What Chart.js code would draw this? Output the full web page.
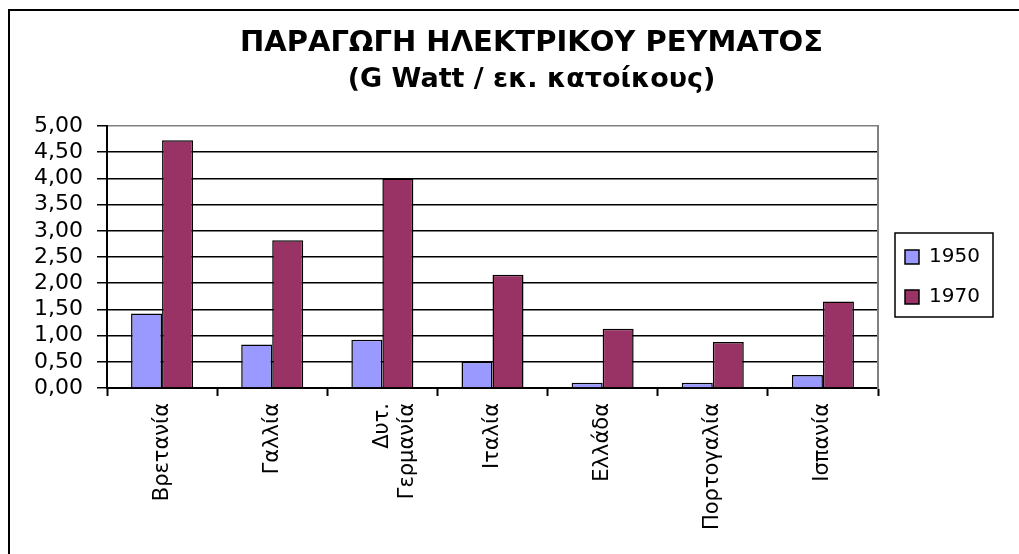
<!DOCTYPE html>
<html>
<head>
<meta charset="utf-8">
<script src="https://cdn.jsdelivr.net/npm/chart.js@4/dist/chart.umd.min.js"></script>
<style>
  html, body { margin: 0; padding: 0; background: #ffffff; }
  #wrap { width: 1019px; height: 554px; position: relative; }
</style>
</head>
<body>
<div id="wrap"><canvas id="c" width="1019" height="554"></canvas></div>
<script>
const titleText = 'ΠΑΡΑΓΩΓΗ ΗΛΕΚΤΡΙΚΟΥ ΡΕΥΜΑΤΟΣ';
const subtitleText = '(G Watt / εκ. κατοίκους)';
const categories = ['Βρετανία', 'Γαλλία', ['Δυτ.', 'Γερμανία'], 'Ιταλία', 'Ελλάδα', 'Πορτογαλία', 'Ισπανία'];
const seriesNames = ['1950', '1970'];
const values1950 = [1.42, 0.83, 0.92, 0.50, 0.10, 0.10, 0.25];
const values1970 = [4.73, 2.82, 4.00, 2.16, 1.13, 0.88, 1.65];
const yTickLabels = ['0,00', '0,50', '1,00', '1,50', '2,00', '2,50', '3,00', '3,50', '4,00', '4,50', '5,00'];

Chart.defaults.font.family = "'DejaVu Sans', sans-serif";
Chart.defaults.color = '#000000';

const framePlugin = {
  id: 'frame',
  beforeLayout(chart) {
    const lg = chart.legend;
    if (lg && !lg._wrappedFit) {
      const f = lg.fit;
      lg.fit = function () { f.call(this); this.width = 134; };
      lg._wrappedFit = true;
    }
  },
  afterLayout(chart) {
    chart.boxes.forEach((b) => {
      if (b.position === 'top' && b !== chart.legend && !b.axis) { b.left += 22; b.right += 22; }
    });
  },
  afterDraw(chart) {
    const ctx = chart.ctx;
    ctx.save();
    ctx.strokeStyle = '#000000';
    ctx.lineWidth = 2;
    ctx.strokeRect(9, 10, 1200, 1000);
    const lg = chart.legend;
    if (lg && lg.legendHitBoxes && lg.legendHitBoxes.length === 2) {
      const hb = lg.legendHitBoxes;
      const x0 = lg.left + 10, x1 = lg.left + 108;
      const y0 = hb[0].top - 14, y1 = hb[1].top + hb[1].height + 10;
      ctx.lineWidth = 1.5;
      ctx.strokeRect(x0, y0, x1 - x0, y1 - y0);
    }
    ctx.restore();
  }
};

new Chart(document.getElementById('c'), {
  type: 'bar',
  data: {
    labels: categories,
    datasets: [
      { label: seriesNames[0], data: values1950, backgroundColor: '#9999FF', borderColor: '#000000', borderWidth: 1.5 },
      { label: seriesNames[1], data: values1970, backgroundColor: '#993366', borderColor: '#000000', borderWidth: 1.5 }
    ]
  },
  options: {
    responsive: false,
    animation: false,
    devicePixelRatio: 1,
    layout: { padding: 0 },
    datasets: { bar: { categoryPercentage: 0.563, barPercentage: 1.0 } },
    plugins: {
      title: {
        display: true,
        text: titleText,
        color: '#000000',
        font: { size: 29, weight: 'bold', lineHeight: '37px' },
        padding: { top: 24.5, bottom: 0 }
      },
      subtitle: {
        display: true,
        text: subtitleText,
        color: '#000000',
        font: { size: 27, weight: 'bold', lineHeight: '37px' },
        padding: { top: 0, bottom: 27.5 }
      },
      legend: {
        display: true,
        position: 'right',
        labels: {
          boxWidth: 14,
          boxHeight: 14,
          padding: 20,
          color: '#000000',
          font: { size: 20 }
        }
      },
      tooltip: { enabled: false }
    },
    scales: {
      x: {
        offset: true,
        grid: { display: true, offset: true, drawOnChartArea: false, drawTicks: true, tickLength: 8, tickColor: '#000000', tickWidth: 2 },
        border: { display: true, color: '#000000', width: 2 },
        ticks: { autoSkip: false, minRotation: 90, maxRotation: 90, padding: 7, color: '#000000', font: { size: 21 } },
        afterFit(scale) { scale.height = 166; }
      },
      y: {
        min: 0,
        max: 5,
        ticks: {
          stepSize: 0.5,
          autoSkip: false,
          padding: 14,
          color: '#000000',
          font: { size: 22, lineHeight: 1.0 },
          callback: (v, i) => yTickLabels[i]
        },
        grid: {
          color: (ctx) => (ctx.tick && ctx.tick.value === 5 ? '#808080' : '#000000'),
          lineWidth: 1.5,
          tickLength: 10,
          tickColor: '#000000',
          tickWidth: 1.5
        },
        border: { display: true, color: '#000000', width: 2 },
        afterFit(scale) { scale.width = 107; }
      },
      y2: {
        position: 'right',
        min: 0,
        max: 5,
        grid: { display: false, drawOnChartArea: false, drawTicks: false },
        ticks: { display: false },
        border: { display: true, color: '#808080', width: 2 },
        afterFit(scale) { scale.width = 7; }
      }
    }
  },
  plugins: [framePlugin]
});
</script>
</body>
</html>
